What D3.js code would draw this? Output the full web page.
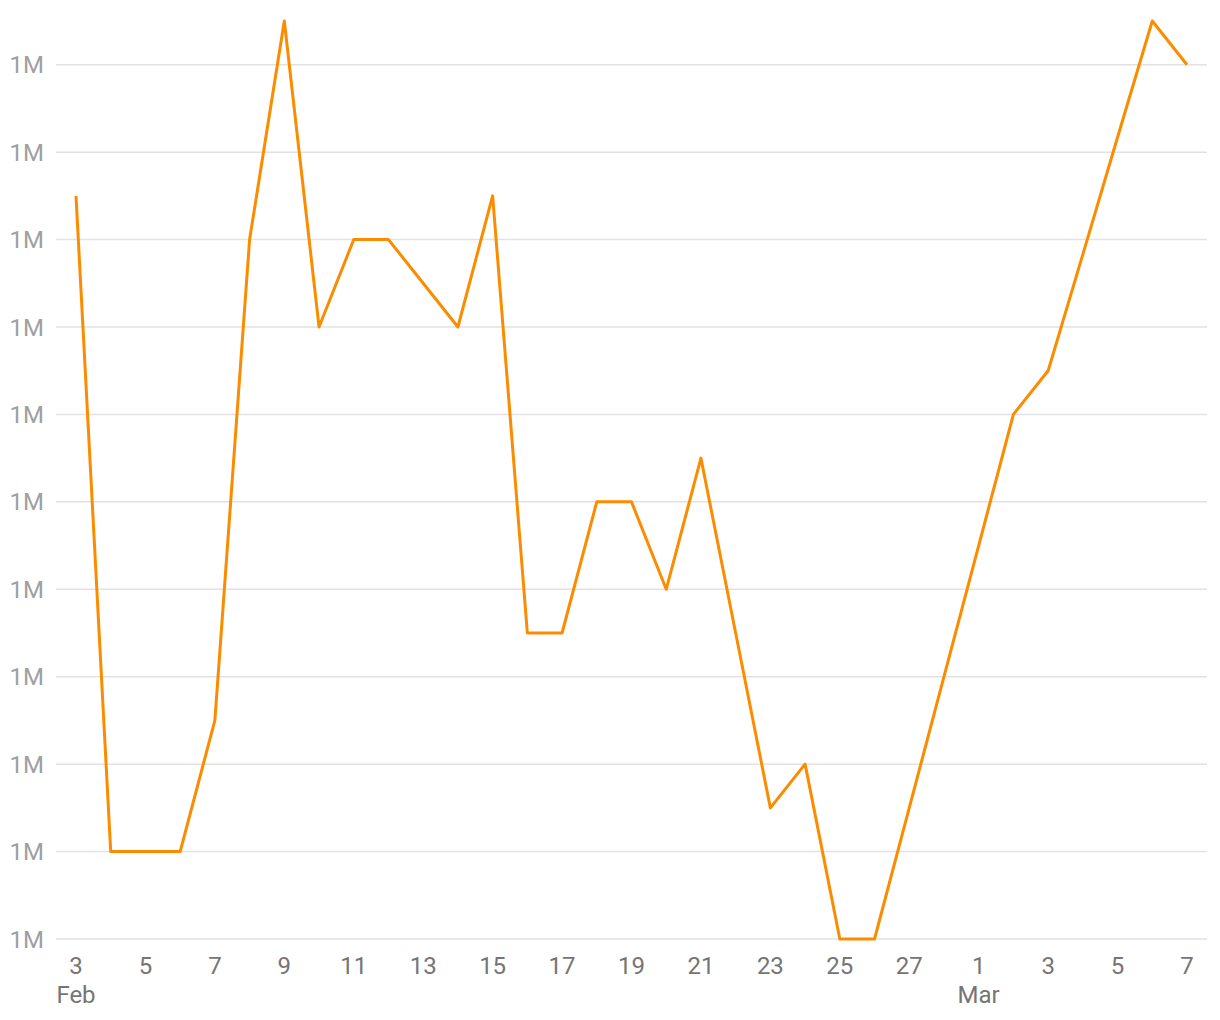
<!DOCTYPE html>
<html>
<head>
<meta charset="utf-8">
<script src="https://cdn.jsdelivr.net/npm/d3@7"></script>
<style>
  html, body { margin: 0; padding: 0; background: #ffffff; }
  svg { display: block; font-family: Roboto, "Noto Sans", sans-serif; }
</style>
</head>
<body>
<svg id="chart" width="1220" height="1020"></svg>
<script>
const dates = [
  "2023-02-03","2023-02-04","2023-02-05","2023-02-06","2023-02-07","2023-02-08","2023-02-09",
  "2023-02-10","2023-02-11","2023-02-12","2023-02-13","2023-02-14","2023-02-15","2023-02-16",
  "2023-02-17","2023-02-18","2023-02-19","2023-02-20","2023-02-21","2023-02-22","2023-02-23",
  "2023-02-24","2023-02-25","2023-02-26","2023-02-27","2023-02-28","2023-03-01","2023-03-02",
  "2023-03-03","2023-03-04","2023-03-05","2023-03-06","2023-03-07"
];
const values = [
  1000085,1000010,1000010,1000010,1000025,1000080,1000105,
  1000070,1000080,1000080,1000075,1000070,1000085,1000035,
  1000035,1000050,1000050,1000040,1000055,1000035,1000015,
  1000020,1000000,1000000,1000015,1000030,1000045,1000060,
  1000065,1000078.3,1000091.7,1000105,1000100
];
const monthLabelDates = ["2023-02-03", "2023-03-01"];

const parse = d3.utcParse("%Y-%m-%d");
const data = dates.map((d, i) => ({ date: parse(d), value: values[i] }));

const svg = d3.select("#chart");
const margin = { left: 76, right: 33, top: 21, bottom: 81 };
const W = 1220, H = 1020;

const x = d3.scaleUtc()
  .domain(d3.extent(data, d => d.date))
  .range([margin.left, W - margin.right]);
const y = d3.scaleLinear()
  .domain(d3.extent(data, d => d.value))
  .range([H - margin.bottom, margin.top]);

const yTicks = y.ticks(10);
const yFmt = d3.format(".1s");

// gridlines
svg.append("g").selectAll("line").data(yTicks).join("line")
  .attr("x1", 56).attr("x2", 1207)
  .attr("y1", d => y(d)).attr("y2", d => y(d))
  .attr("stroke", "#e2e2e2").attr("stroke-width", 1.5);

// y labels
svg.append("g").selectAll("text").data(yTicks).join("text")
  .attr("x", 44).attr("y", d => y(d))
  .attr("dy", "0.36em")
  .attr("text-anchor", "end")
  .attr("fill", "#a0a0a0")
  .attr("font-size", 24)
  .text(d => yFmt(d));

// x labels
const xTicks = x.ticks(d3.utcDay.every(2)).filter(d => d >= x.domain()[0]);
const dayFmt = d3.utcFormat("%-d");
const monFmt = d3.utcFormat("%b");
const monthSet = new Set(monthLabelDates.map(s => +parse(s)));
const xg = svg.append("g");
xg.selectAll("text.day").data(xTicks).join("text")
  .attr("class", "day")
  .attr("x", d => x(d)).attr("y", 974)
  .attr("text-anchor", "middle")
  .attr("fill", "#757575")
  .attr("font-size", 24)
  .text(d => dayFmt(d));
xg.selectAll("text.mon").data(xTicks.filter(d => monthSet.has(+d))).join("text")
  .attr("class", "mon")
  .attr("x", d => x(d)).attr("y", 1003)
  .attr("text-anchor", "middle")
  .attr("fill", "#757575")
  .attr("font-size", 24)
  .text(d => monFmt(d));

// line
svg.append("path")
  .datum(data)
  .attr("fill", "none")
  .attr("stroke", "#fb8c00")
  .attr("stroke-width", 3)
  .attr("stroke-linejoin", "round")
  .attr("d", d3.line().x(d => x(d.date)).y(d => y(d.value)));
</script>
</body>
</html>
